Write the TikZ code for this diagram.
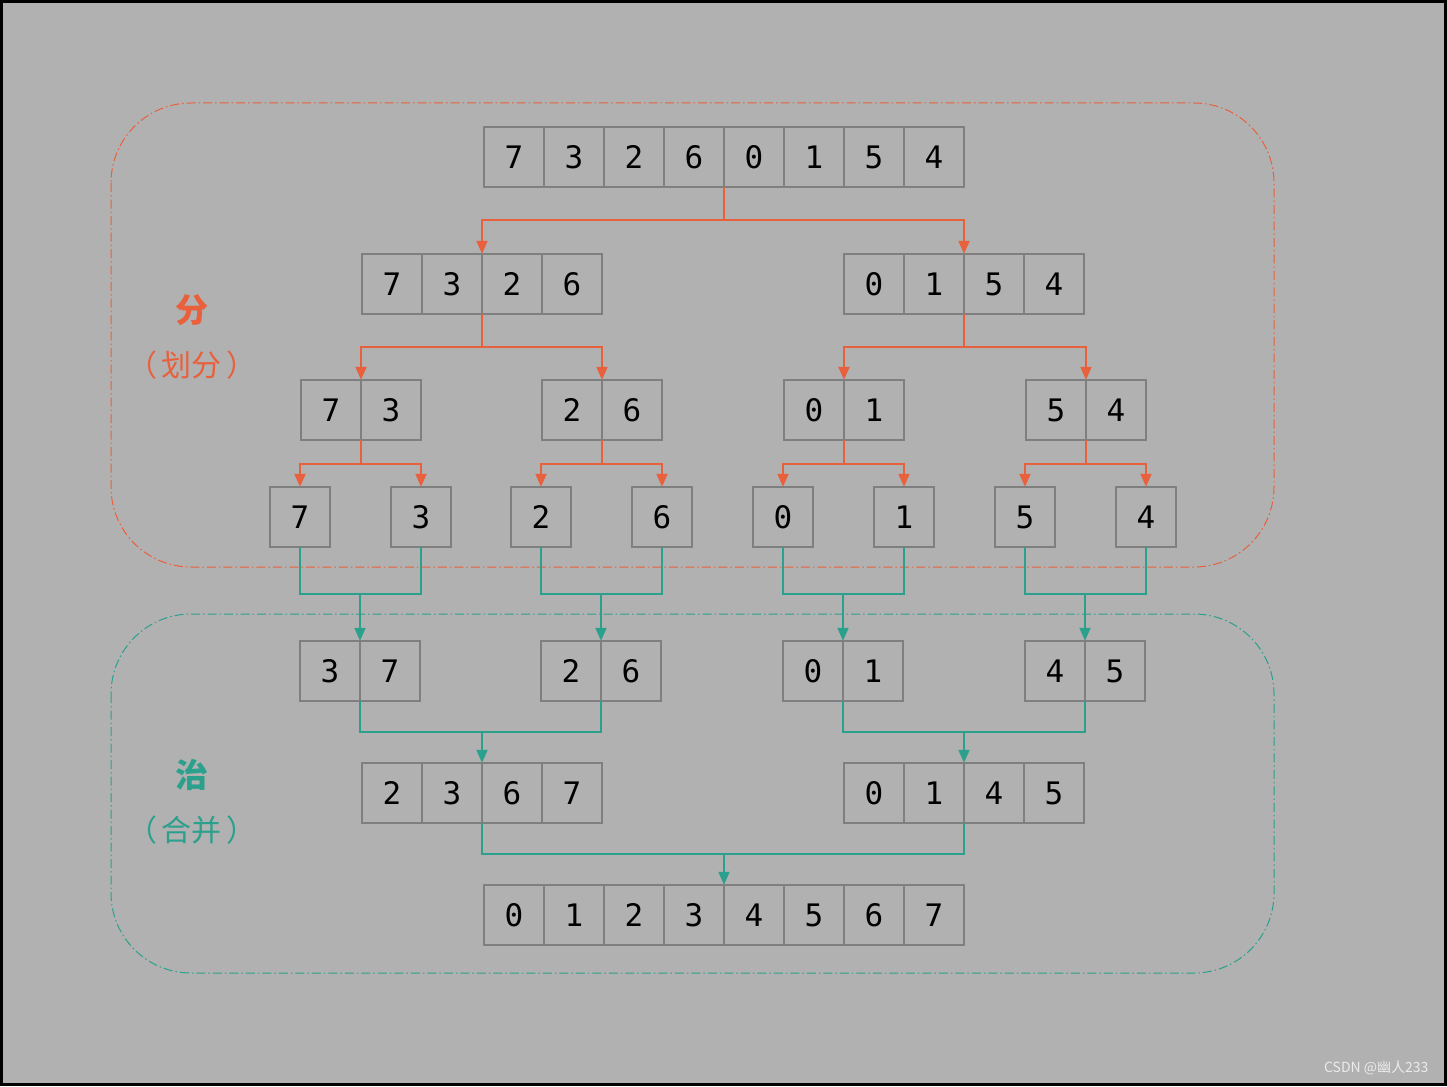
\documentclass[tikz,border=0pt]{standalone}
\usepackage{fontspec}
\setmonofont{DejaVu Sans Mono}
\newfontfamily\cjk{Noto Sans CJK SC}
\usetikzlibrary{arrows.meta,calc}
\definecolor{splitred}{HTML}{E8603C}
\definecolor{mergeteal}{HTML}{2BA08C}
\definecolor{canvas}{HTML}{B1B1B1}
\definecolor{cellline}{HTML}{7F7F7F}

% one array: name, cells, centre x, centre y, values
\newcommand\arr[5]{%
  \node[inner sep=0pt,minimum width={60pt*#2},minimum height=60pt] (#1) at (#3,#4) {};
  \foreach \v [count=\i] in {#5}
    \node[cell] (#1-\i) at ({#3+60*(\i-(#2+1)/2)},#4) {\v};
}

\begin{document}
\begin{tikzpicture}[
  x=1pt,y=-1pt,
  cell/.style={draw=cellline,line width=2pt,minimum size=60pt,inner sep=0pt,
               font=\ttfamily\fontsize{31}{34}\selectfont,text=black},
  split/.style={-{Triangle[length=13pt,width=11pt]},splitred,line width=2pt},
  joinline/.style={mergeteal,line width=2pt},
  merge/.style={-{Triangle[length=13pt,width=11pt]},mergeteal,line width=2pt},
  frame/.style={line width=1pt,rounded corners=80pt,
                dash pattern=on 9pt off 3pt on 1.5pt off 3pt},
  tag/.style={font=\cjk\fontsize{30}{34}\selectfont},
  head/.style={font=\cjk\bfseries\fontsize{33}{36}\selectfont},
]
  \useasboundingbox (0,0) rectangle (1447,1086);
  \fill[canvas] (0,0) rectangle (1447,1086);
  \draw[black,line width=3pt] (1.5,1.5) rectangle (1445.5,1084.5);

  % frames
  \draw[frame,splitred] (111,103) rectangle (1274,567);
  \draw[frame,mergeteal] (111,614) rectangle (1274,973);

  \node[head,text=splitred] (fen) at (192,310) {分};
  \node[tag,text=splitred] (fenx) at (192,365) {（\kern5pt 划分\kern5pt ）};
  \node[head,text=mergeteal] (zhi) at (192,775) {治};
  \node[tag,text=mergeteal] (zhix) at (192,830) {（\kern5pt 合并\kern5pt ）};

  % divide
  \arr{s0}{8}{724}{157}{7,3,2,6,0,1,5,4}
  \arr{s1l}{4}{482}{284}{7,3,2,6}
  \arr{s1r}{4}{964}{284}{0,1,5,4}
  \arr{s2a}{2}{361}{410}{7,3}
  \arr{s2b}{2}{602}{410}{2,6}
  \arr{s2c}{2}{844}{410}{0,1}
  \arr{s2d}{2}{1086}{410}{5,4}
  \arr{s3a}{1}{300}{517}{7}
  \arr{s3b}{1}{421}{517}{3}
  \arr{s3c}{1}{541}{517}{2}
  \arr{s3d}{1}{662}{517}{6}
  \arr{s3e}{1}{783}{517}{0}
  \arr{s3f}{1}{904}{517}{1}
  \arr{s3g}{1}{1025}{517}{5}
  \arr{s3h}{1}{1146}{517}{4}

  % conquer
  \arr{m1a}{2}{360}{671}{3,7}
  \arr{m1b}{2}{601}{671}{2,6}
  \arr{m1c}{2}{843}{671}{0,1}
  \arr{m1d}{2}{1085}{671}{4,5}
  \arr{m2l}{4}{482}{793}{2,3,6,7}
  \arr{m2r}{4}{964}{793}{0,1,4,5}
  \arr{m3}{8}{724}{915}{0,1,2,3,4,5,6,7}

  \draw[split] (s0.south) -- ++(0,33) -| (s1l.north);
  \draw[split] (s0.south) -- ++(0,33) -| (s1r.north);
  \foreach \p/\a/\b in {s1l/s2a/s2b,s1r/s2c/s2d}{
    \draw[split] (\p.south) -- ++(0,33) -| (\a.north);
    \draw[split] (\p.south) -- ++(0,33) -| (\b.north);
  }
  \foreach \p/\a/\b in {s2a/s3a/s3b,s2b/s3c/s3d,s2c/s3e/s3f,s2d/s3g/s3h}{
    \draw[split] (\p.south) -- ++(0,24) -| (\a.north);
    \draw[split] (\p.south) -- ++(0,24) -| (\b.north);
  }

  \foreach \a/\b/\c in {s3a/s3b/m1a,s3c/s3d/m1b,s3e/s3f/m1c,s3g/s3h/m1d}{
    \draw[joinline] (\a.south) -- ++(0,47) coordinate (j-\c) -| (\b.south);
    \draw[merge] (j-\c -| \c.north) -- (\c.north);
  }
  \foreach \a/\b/\c in {m1a/m1b/m2l,m1c/m1d/m2r,m2l/m2r/m3}{
    \draw[joinline] (\a.south) -- ++(0,31) coordinate (j-\c) -| (\b.south);
    \draw[merge] (j-\c -| \c.north) -- (\c.north);
  }

  \node[text=white!92!black,font=\cjk\fontsize{14}{16}\selectfont,anchor=east] (mark) at (1432,1068) {CSDN @幽人233};
\end{tikzpicture}
\end{document}
